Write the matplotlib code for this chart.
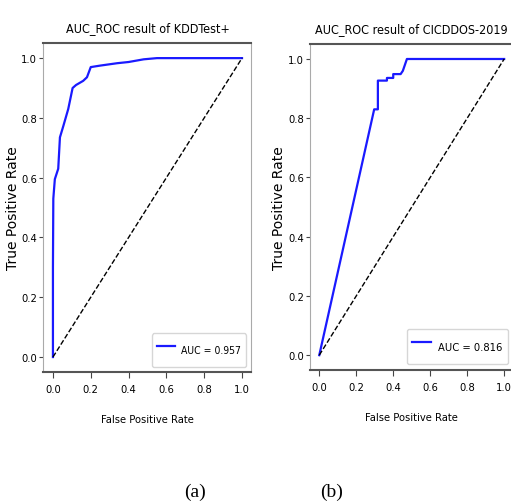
import matplotlib
matplotlib.use("Agg")
import matplotlib.pyplot as plt

# ROC curve of KDDTest+
kdd_fpr = [0.0, 0.0, 0.002, 0.01, 0.028, 0.037, 0.055, 0.081, 0.104, 0.122, 0.16, 0.18,
           0.20, 0.25, 0.34, 0.40, 0.48, 0.55, 1.0]
kdd_tpr = [0.0, 0.30, 0.53, 0.595, 0.63, 0.735, 0.773, 0.83, 0.90, 0.91, 0.924, 0.936,
           0.97, 0.975, 0.983, 0.987, 0.996, 1.0, 1.0]
kdd_auc = 0.957

# ROC curve of CICDDOS-2019
cic_fpr = [0.0, 0.297, 0.317, 0.317, 0.366, 0.366, 0.40, 0.40, 0.44, 0.452, 0.474, 1.0]
cic_tpr = [0.0, 0.83, 0.83, 0.927, 0.927, 0.936, 0.936, 0.949, 0.949, 0.96, 1.0, 1.0]
cic_auc = 0.816

titles = ["AUC_ROC result of KDDTest+", "AUC_ROC result of CICDDOS-2019"]
captions = ["(a)", "(b)"]

COND = dict(family="DejaVu Sans", stretch="condensed")

fig = plt.figure(figsize=(5.11, 5.02), dpi=100)
axes = [fig.add_axes([0.0851, 0.257, 0.407, 0.655]),
        fig.add_axes([0.6067, 0.261, 0.398, 0.649])]
curves = [(kdd_fpr, kdd_tpr, kdd_auc), (cic_fpr, cic_tpr, cic_auc)]
ylabel_x = [-0.112, -0.118]
legend_size = [7.5, 8.0]

for ax, (fpr, tpr, auc), title, lx, ls in zip(axes, curves, titles, ylabel_x, legend_size):
    ax.plot(fpr, tpr, color="#1a1aff", lw=1.6, label=f"AUC = {auc:.3f}")
    ax.plot([0, 1], [0, 1], "k--", lw=1.0)
    ax.set_xlim(-0.05, 1.05)
    ax.set_ylim(-0.05, 1.05)
    ax.set_xticks([0, 0.2, 0.4, 0.6, 0.8, 1.0])
    ax.set_yticks([0, 0.2, 0.4, 0.6, 0.8, 1.0])
    for lab in ax.get_xticklabels() + ax.get_yticklabels():
        lab.set(**COND)
        lab.set_fontsize(8)
    ax.tick_params(axis="x", length=4, width=0.8, color="#444444", pad=5)
    ax.tick_params(axis="y", length=3, width=0.8, color="#444444", pad=1.5)
    for side in ("top", "bottom"):
        ax.spines[side].set_color("#555555")
        ax.spines[side].set_linewidth(1.5)
    for side in ("left", "right"):
        ax.spines[side].set_color("#aaaaaa")
        ax.spines[side].set_linewidth(0.8)
    ax.set_title(title, fontsize=9, pad=9, **COND)
    ax.set_xlabel("False Positive Rate", fontsize=8, labelpad=14, **COND)
    ax.set_ylabel("True Positive Rate", family="DejaVu Sans", fontsize=10)
    ax.yaxis.set_label_coords(lx, 0.5)
    ax.legend(loc="lower right", prop=dict(size=ls, **COND),
              handlelength=1.7, handletextpad=0.6, borderpad=0.5, handleheight=3.0)

for x, cap in zip([195 / 511, 332 / 511], captions):
    fig.text(x, 1 - 492 / 502, cap, family="Liberation Serif", fontsize=14,
             ha="center", va="center")

fig.savefig("out.png", dpi=100)
